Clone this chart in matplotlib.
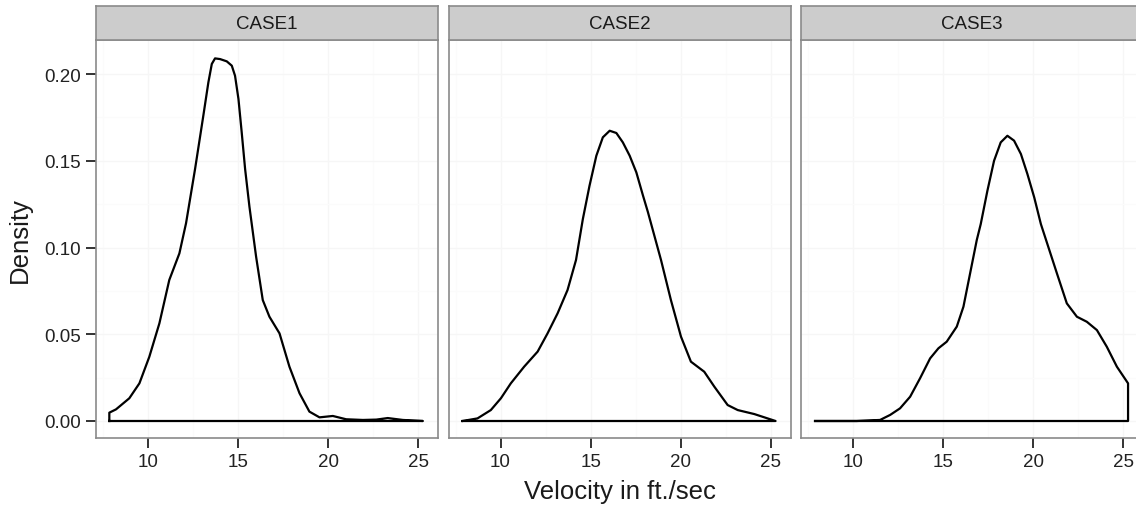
import numpy as np
import matplotlib
matplotlib.use("Agg")
import matplotlib.pyplot as plt

plt.rcParams['font.family'] = ['Liberation Sans', 'DejaVu Sans']

cases = ['CASE1', 'CASE2', 'CASE3']

# density curves (velocity, density)
case1_x = [7.85, 8.22, 8.96, 9.52, 10.07, 10.63, 11.18, 11.74, 12.11, 12.61, 13.07, 13.35,
           13.54, 13.72, 14.0, 14.37, 14.65, 14.83, 15.02, 15.2, 15.39, 15.63, 16.0, 16.37,
           16.74, 17.3, 17.85, 18.41, 18.96, 19.52, 20.26, 21.0, 21.93, 22.67, 23.31, 24.15, 25.26]
case1_y = [0.0048, 0.0067, 0.0131, 0.0217, 0.037, 0.0563, 0.0813, 0.0966, 0.114, 0.1452, 0.176, 0.1952,
           0.2058, 0.209, 0.2086, 0.2073, 0.2048, 0.199, 0.1856, 0.1664, 0.1452, 0.1235, 0.0947, 0.0697,
           0.0601, 0.0505, 0.0313, 0.016, 0.0054, 0.0021, 0.0029, 0.001, 0.0006, 0.0008, 0.0017, 0.0006, 0.0]

case2_x = [7.89, 8.72, 9.46, 10.02, 10.57, 11.31, 12.06, 12.61, 13.17, 13.72, 14.19, 14.57,
           14.94, 15.32, 15.68, 16.06, 16.43, 16.79, 17.17, 17.54, 17.91, 18.18, 18.91, 19.46,
           20.02, 20.57, 21.31, 21.87, 22.61, 23.17, 24.09, 24.65, 25.27]
case2_y = [0.0, 0.0015, 0.0063, 0.0131, 0.0217, 0.0313, 0.04, 0.0505, 0.0621, 0.0755, 0.0928, 0.1164,
           0.1356, 0.1529, 0.1635, 0.1673, 0.166, 0.1606, 0.1529, 0.1433, 0.1299, 0.1205, 0.0928, 0.0697,
           0.0486, 0.0342, 0.0284, 0.0198, 0.0092, 0.0063, 0.004, 0.0021, 0.0]

case3_x = [7.89, 10.2, 11.5, 12.06, 12.61, 13.17, 13.72, 14.28, 14.74, 15.2, 15.76, 16.13,
           16.5, 16.87, 17.09, 17.46, 17.83, 18.2, 18.57, 18.94, 19.32, 19.68, 20.06, 20.43,
           21.32, 21.87, 22.43, 22.98, 23.54, 24.09, 24.65, 25.27]
case3_y = [0.0, 0.0, 0.0006, 0.0035, 0.0073, 0.014, 0.0246, 0.0361, 0.0419, 0.0457, 0.0544, 0.0659,
           0.0851, 0.1043, 0.1135, 0.1327, 0.15, 0.1606, 0.1644, 0.1616, 0.1539, 0.1424, 0.1289, 0.1135,
           0.0851, 0.0678, 0.0601, 0.0572, 0.0524, 0.0428, 0.0313, 0.0217]

xs = [case1_x, case2_x, case3_x]
ys = [case1_y, case2_y, case3_y]

x_ticks = [10, 15, 20, 25]
y_ticks = [0.00, 0.05, 0.10, 0.15, 0.20]

W, H = 1136, 510
fig = plt.figure(figsize=(W / 100, H / 100), dpi=100)

panel_left = [96, 448.5, 801]
panel_w = 342
panel_top, panel_bot = 41, 439
strip_top = 7

for i, name in enumerate(cases):
    l = panel_left[i]
    ax = fig.add_axes([l / W, (H - panel_bot) / H, panel_w / W, (panel_bot - panel_top) / H])
    # closed outline like geom_density
    px = [xs[i][0]] + list(xs[i]) + [xs[i][-1], xs[i][0]]
    py = [0] + list(ys[i]) + [0, 0]
    ax.plot(px, py, color='black', lw=1.6, solid_joinstyle='round')
    ax.set_xlim(7.11, 26.1)
    ax.set_ylim(-0.0098, 0.2196)
    ax.set_xticks(x_ticks)
    ax.set_yticks(y_ticks)
    ax.set_xticks([7.5, 12.5, 17.5, 22.5], minor=True)
    ax.set_yticks([0.025, 0.075, 0.125, 0.175], minor=True)
    ax.grid(True, which='major', color='#f6f6f6', lw=1.0)
    ax.grid(True, which='minor', color='#fbfbfb', lw=0.8)
    ax.set_axisbelow(True)
    for s in ax.spines.values():
        s.set_color('#8a8a8a')
        s.set_linewidth(1.2)
    ax.tick_params(which='major', length=7, width=1.4, color='#333333',
                   labelsize=13.5, labelcolor='#222222', pad=4)
    ax.tick_params(which='minor', length=0)
    if i == 0:
        ax.set_yticklabels([f'{v:.2f}' for v in y_ticks])
    else:
        ax.tick_params(axis='y', which='major', length=0, labelleft=False)

    sax = fig.add_axes([l / W, (H - panel_top) / H, panel_w / W, (panel_top - strip_top) / H])
    sax.set_facecolor('#cccccc')
    sax.set_xticks([])
    sax.set_yticks([])
    for s in sax.spines.values():
        s.set_color('#8a8a8a')
        s.set_linewidth(1.2)
    sax.text(0.5, 0.5, name, ha='center', va='center', fontsize=13.5,
             color='#1a1a1a', transform=sax.transAxes)

fig.text(619.5 / W, (H - 492) / H, 'Velocity in ft./sec', ha='center', va='center',
         fontsize=18.5, color='#1a1a1a')
fig.text(20 / W, (H - 240) / H, 'Density', ha='center', va='center', rotation=90,
         fontsize=18.5, color='#1a1a1a')

fig.savefig('out.png', dpi=100)
